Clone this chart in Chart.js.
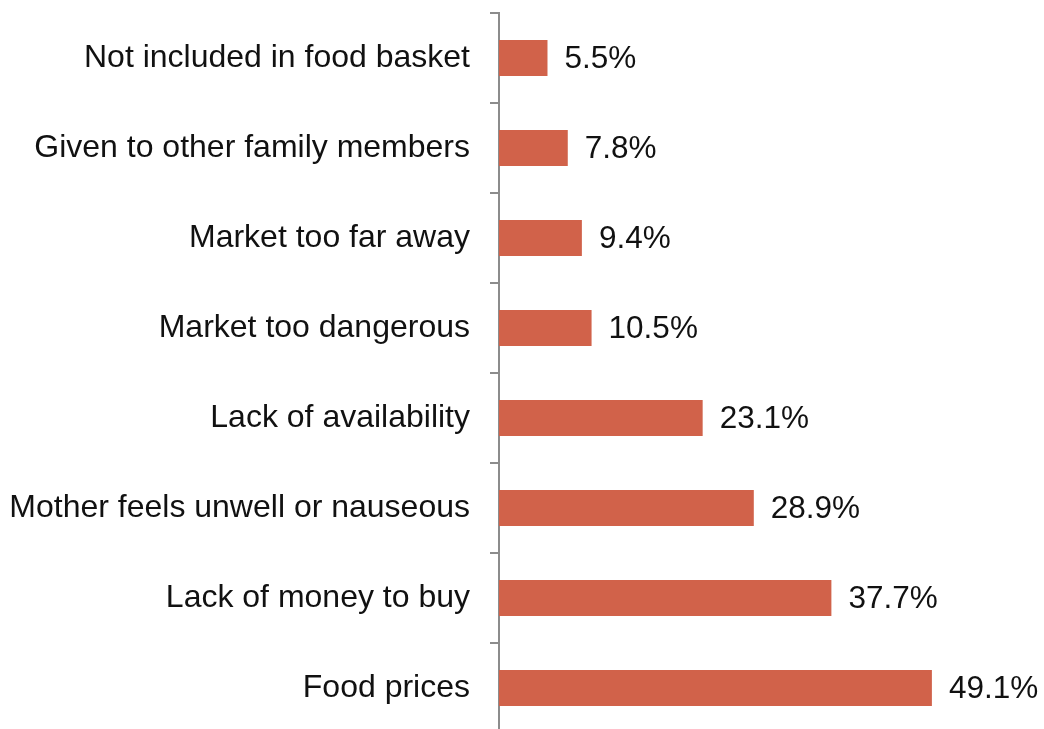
<!DOCTYPE html>
<html>
<head>
<meta charset="utf-8">
<script src="https://cdn.jsdelivr.net/npm/chart.js@4"></script>
<style>
  html, body { margin: 0; padding: 0; background: #fff; overflow: hidden; }
  canvas { display: block; }
</style>
</head>
<body>
<canvas id="c" width="1044" height="733"></canvas>
<script>
// Reasons for not eating certain foods (% of respondents)
const categories = [
  "Not included in food basket",
  "Given to other family members",
  "Market too far away",
  "Market too dangerous",
  "Lack of availability",
  "Mother feels unwell or nauseous",
  "Lack of money to buy",
  "Food prices"
];
const values = [5.5, 7.8, 9.4, 10.5, 23.1, 28.9, 37.7, 49.1];
const valueLabels = ["5.5%", "7.8%", "9.4%", "10.5%", "23.1%", "28.9%", "37.7%", "49.1%"];

const FONT = '"Liberation Sans", Arial, sans-serif';

// Writes each bar's value just past its end
const valueLabelPlugin = {
  id: 'valueLabels',
  afterDatasetsDraw(chart) {
    const ctx = chart.ctx;
    const meta = chart.getDatasetMeta(0);
    ctx.save();
    ctx.font = '31.5px ' + FONT;
    ctx.fillStyle = '#111';
    ctx.textAlign = 'left';
    ctx.textBaseline = 'middle';
    meta.data.forEach((bar, i) => {
      ctx.fillText(valueLabels[i], bar.x + 17, bar.y + 1);
    });
    ctx.restore();
  }
};

new Chart(document.getElementById('c'), {
  type: 'bar',
  data: {
    labels: categories,
    datasets: [{
      data: values,
      backgroundColor: '#D1624A',
      borderWidth: 0,
      barPercentage: 0.4,
      categoryPercentage: 1.0
    }]
  },
  options: {
    indexAxis: 'y',
    responsive: false,
    animation: false,
    devicePixelRatio: 1,
    layout: { padding: { top: 13, right: 16, bottom: 0, left: 0 } },
    plugins: {
      legend: { display: false },
      tooltip: { enabled: false }
    },
    scales: {
      x: {
        display: false,
        min: 0,
        max: 60
      },
      y: {
        afterFit(scale) {
          scale.width = 499;
          scale.paddingTop = 0;
          scale.paddingBottom = 0;
        },
        border: { display: true, color: '#8c8c8c', width: 2 },
        grid: {
          offset: true,
          drawOnChartArea: false,
          drawTicks: true,
          tickLength: 9,
          color: '#8c8c8c',
          lineWidth: 2
        },
        ticks: {
          color: '#111',
          padding: 20,
          font: { family: FONT, size: 32 }
        }
      }
    }
  },
  plugins: [valueLabelPlugin]
});
</script>
</body>
</html>
